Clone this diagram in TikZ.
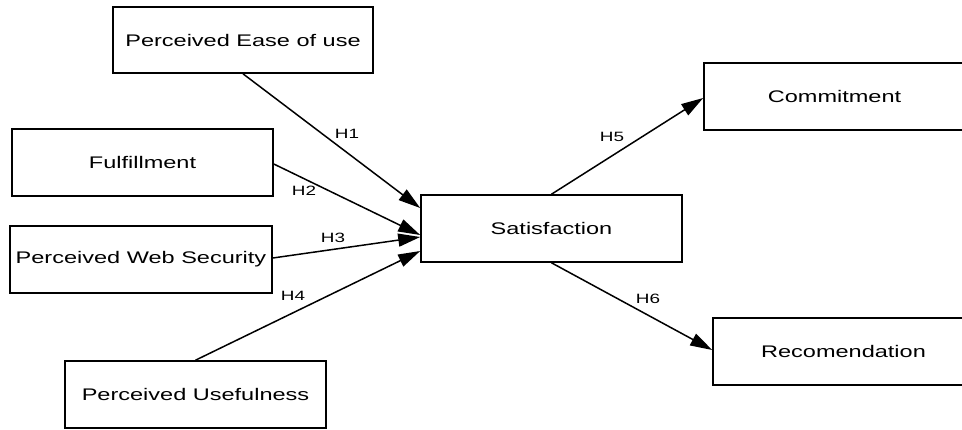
\documentclass[tikz,border=0pt]{standalone}
\usepackage{fontspec}
\setmainfont{Liberation Sans}
\newfontfamily\widesans[FakeStretch=1.4]{Liberation Sans}
\usetikzlibrary{arrows.meta}
\begin{document}
\begin{tikzpicture}[x=1pt,y=-1pt,
  construct/.style={draw, line width=1.6pt, minimum width=261pt, minimum height=67pt,
    inner sep=0pt, font=\widesans\fontsize{16.8}{18}\selectfont},
  hyp/.style={line width=1.5pt, -{Triangle[length=22pt,width=13pt]}},
  hlabel/.style={font=\widesans\fontsize{13.5}{14}\selectfont, inner sep=0pt}]
  \useasboundingbox (0,0) rectangle (962,429);

  % exogenous constructs
  \node[construct, minimum width=260pt, minimum height=66pt] (ease) at (243,40) {Perceived Ease of use};
  \node[construct] (fulfil) at (142.5,162.5) {Fulfillment};
  \node[construct, minimum width=262pt] (websec) at (141,259.5) {Perceived Web Security};
  \node[construct] (useful) at (195.5,394.5) {Perceived Usefulness};

  % mediator and outcomes
  \node[construct] (satis) at (551.5,228.5) {Satisfaction};
  \node[construct] (commit) at (834.5,96.5) {Commitment};
  \node[construct] (recom) at (843.5,351.5) {Recomendation};

  % hypothesised paths
  \draw[hyp] (ease.south) -- ([yshift=20.5pt]satis.west);
  \draw[hyp] ([yshift=-1.5pt]fulfil.east) -- ([yshift=-6.5pt]satis.west);
  \draw[hyp] ([yshift=1.5pt]websec.east) -- ([yshift=-8.5pt]satis.west);
  \draw[hyp] (useful.north) -- ([yshift=-22.5pt]satis.west);
  \draw[hyp] (satis.north) -- ([yshift=-1.5pt]commit.west);
  \draw[hyp] (satis.south) -- ([yshift=1.5pt]recom.west);

  % path labels
  \node[hlabel] (h1) at (347,134) {H1};
  \node[hlabel] (h2) at (304,191) {H2};
  \node[hlabel] (h3) at (333,238) {H3};
  \node[hlabel] (h4) at (293,296) {H4};
  \node[hlabel] (h5) at (612,137) {H5};
  \node[hlabel] (h6) at (648,299) {H6};
\end{tikzpicture}
\end{document}
